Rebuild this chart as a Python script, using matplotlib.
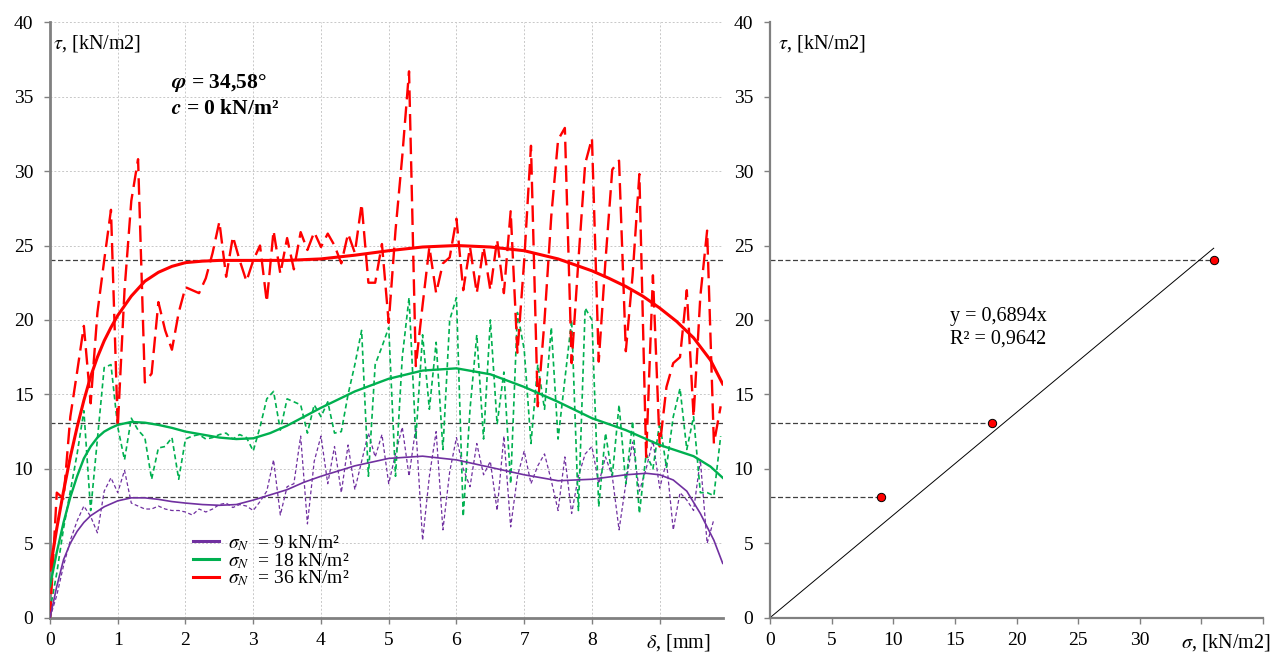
import numpy as np
import matplotlib
matplotlib.use("Agg")
import matplotlib.pyplot as plt

plt.rcParams['font.family'] = ['Liberation Serif', 'DejaVu Serif']
plt.rcParams['mathtext.fontset'] = 'stix'

# ---------------- data ----------------
delta = [round(0.1 * i, 1) for i in range(100)]  # displacement, mm

tau36_raw = [0.0, 8.4, 8.0, 13.5, 16.5, 19.6, 14.4, 20.5, 24.0, 27.4,
             12.8, 22.0, 28.0, 30.8, 15.8, 16.4, 21.2, 19.3, 18.0, 20.5,
             22.2, 22.0, 21.8, 22.8, 24.5, 26.6, 22.9, 25.6, 24.0, 22.6,
             24.0, 25.0, 21.2, 26.0, 23.1, 25.5, 23.4, 25.9, 24.7, 25.9,
             24.9, 25.8, 25.0, 23.8, 25.8, 24.5, 27.8, 22.5, 22.5, 25.1,
             19.8, 26.0, 31.0, 36.7, 16.9, 21.0, 24.9, 21.8, 23.8, 24.2,
             26.8, 22.0, 24.9, 21.8, 24.9, 22.0, 25.4, 21.8, 27.3, 17.8,
             24.0, 31.7, 14.2, 20.0, 27.0, 32.1, 32.9, 17.1, 24.0, 30.5,
             32.2, 17.2, 24.0, 30.1, 30.7, 17.9, 23.0, 29.8, 10.8, 23.0,
             11.5, 15.5, 17.1, 17.5, 22.0, 13.5, 21.6, 26.0, 11.7, 14.2]

tau18_raw = [0.5, 3.0, 6.0, 8.5, 11.0, 13.9, 7.2, 12.0, 16.8, 17.0,
             12.8, 10.6, 13.4, 12.6, 12.1, 9.3, 11.4, 11.5, 12.1, 9.3,
             12.0, 12.2, 12.3, 12.0, 12.1, 12.3, 12.4, 12.0, 12.3, 12.1,
             11.2, 12.8, 14.7, 15.2, 12.6, 14.7, 14.5, 14.3, 12.4, 14.3,
             13.5, 14.5, 12.4, 12.5, 15.0, 17.0, 19.3, 9.5, 17.0, 18.2,
             19.5, 9.5, 17.5, 21.5, 12.0, 19.0, 14.0, 18.5, 11.3, 20.0,
             21.5, 6.8, 14.0, 19.0, 12.0, 20.0, 13.0, 16.5, 9.0, 20.5,
             18.0, 11.7, 17.0, 14.0, 19.5, 12.0, 16.0, 20.0, 7.2, 20.8,
             20.0, 7.45, 12.4, 9.5, 14.3, 9.0, 13.2, 7.0, 11.0, 10.0,
             13.1, 10.1, 13.5, 15.4, 11.3, 13.5, 8.4, 8.4, 8.2, 12.2]

tau9_raw = [0.0, 1.5, 3.5, 5.2, 6.5, 7.5, 6.8, 5.7, 8.5, 9.4,
            8.4, 9.9, 7.7, 7.5, 7.3, 7.3, 7.5, 7.3, 7.2, 7.2,
            7.1, 6.9, 7.3, 7.1, 7.3, 7.6, 7.7, 7.4, 7.6, 7.5,
            7.2, 7.8, 8.5, 10.6, 6.9, 8.8, 9.0, 12.2, 6.3, 10.5,
            12.2, 9.0, 11.5, 8.4, 11.6, 8.6, 10.5, 12.4, 10.8, 12.3,
            9.0, 11.0, 12.8, 9.5, 12.8, 5.2, 9.5, 12.5, 5.9, 9.8,
            12.1, 10.0, 8.8, 11.7, 9.6, 10.5, 7.2, 12.2, 6.1, 9.5,
            11.2, 9.0, 10.2, 11.0, 9.2, 7.2, 10.8, 7.0, 9.5, 11.0,
            11.5, 9.0, 10.8, 9.5, 5.9, 9.0, 11.8, 8.5, 10.0, 11.9,
            8.7, 10.5, 5.9, 8.4, 7.9, 7.2, 10.6, 5.0, 6.6]

# trend curves
trend36_x = [0, 0.1, 0.2, 0.3, 0.4, 0.5, 0.6, 0.7, 0.8, 0.9, 1.0, 1.2, 1.4, 1.6,
             1.8, 2.0, 2.25, 2.5, 3.0, 3.5, 4.0, 4.5, 5.0, 5.5, 6.0, 6.5, 7.0,
             7.5, 8.0, 8.25, 8.5, 8.75, 9.0, 9.25, 9.5, 9.75, 9.93]
trend36_y = [3.2, 6.0, 8.5, 10.8, 12.8, 14.6, 16.2, 17.5, 18.6, 19.5, 20.3, 21.6,
             22.6, 23.2, 23.6, 23.85, 23.95, 24.0, 24.0, 24.0, 24.1, 24.35, 24.65,
             24.9, 25.0, 24.9, 24.65, 24.1, 23.3, 22.8, 22.25, 21.6, 20.8, 19.9,
             18.8, 17.3, 15.7]

trend18_x = [0, 0.1, 0.2, 0.3, 0.4, 0.5, 0.6, 0.7, 0.8, 0.9, 1.0, 1.2, 1.4, 1.6,
             1.8, 2.0, 2.25, 2.5, 2.75, 3.0, 3.25, 3.5, 3.75, 4.0, 4.5, 5.0, 5.5,
             6.0, 6.5, 7.0, 7.5, 8.0, 8.5, 9.0, 9.5, 9.75, 9.93]
trend18_y = [2.1, 4.4, 6.4, 8.1, 9.5, 10.7, 11.5, 12.1, 12.5, 12.75, 12.95, 13.15,
             13.1, 12.95, 12.75, 12.5, 12.3, 12.1, 12.0, 12.05, 12.4, 12.9, 13.5,
             14.1, 15.2, 16.05, 16.6, 16.75, 16.35, 15.5, 14.5, 13.4, 12.6, 11.6,
             10.85, 10.15, 9.4]

trend9_x = [0, 0.1, 0.2, 0.3, 0.4, 0.5, 0.6, 0.8, 1.0, 1.2, 1.4, 1.6, 1.8, 2.0,
            2.25, 2.5, 2.75, 3.0, 3.25, 3.5, 3.75, 4.0, 4.5, 5.0, 5.5, 6.0, 6.5,
            7.0, 7.5, 8.0, 8.5, 8.8, 9.0, 9.2, 9.4, 9.6, 9.8, 9.93]
trend9_y = [0.0, 2.1, 3.9, 5.0, 5.8, 6.4, 6.85, 7.45, 7.85, 8.05, 8.05, 7.95, 7.8,
            7.7, 7.6, 7.55, 7.6, 7.9, 8.25, 8.6, 9.1, 9.5, 10.2, 10.7, 10.85, 10.6,
            10.1, 9.6, 9.2, 9.3, 9.6, 9.7, 9.6, 9.25, 8.5, 7.0, 5.2, 3.65]

sigma_n = [9, 18, 36]
tau_peak = [8.1, 13.1, 24.0]
slope = 0.6894
fit_x = [0, 36]

series_labels = [r'$\sigma_N$  = 9 kN/m²', r'$\sigma_N$  = 18 kN/m²', r'$\sigma_N$  = 36 kN/m²']
c_purple, c_green, c_red = '#7030A0', '#00B050', '#FF0000'

# ---------------- figure ----------------
fig = plt.figure(figsize=(12.88, 6.52), dpi=100)
axL = fig.add_axes([50 / 1288, 34.3 / 652, 672.7 / 1288, 595.5 / 652])
axR = fig.add_axes([770 / 1288, 34.3 / 652, 493 / 1288, 595.5 / 652])

spine_col = '#808080'
for ax in (axL, axR):
    for s in ('top', 'right'):
        ax.spines[s].set_visible(False)
    for s in ('left', 'bottom'):
        ax.spines[s].set_color(spine_col)
    ax.tick_params(colors=spine_col, labelcolor='black', labelsize=14,
                   length=4, width=1)
    ax.tick_params(axis='y', pad=8)
    ax.tick_params(axis='x', pad=6)
    ax.set_ylim(0, 40)
    ax.set_yticks(range(0, 41, 5))
axL.spines['left'].set_linewidth(2)
axL.spines['bottom'].set_linewidth(2)
axR.spines['left'].set_linewidth(1.6)
axR.spines['bottom'].set_linewidth(1.6)

# ---- left panel ----
axL.set_xlim(0, 9.93)
axL.set_xticks(range(0, 10))
axL.set_xticklabels([str(i) for i in range(9)] + [''])
axL.grid(True, color='#C8C8C8', linestyle=(0, (2, 2)), linewidth=0.7)
axL.set_axisbelow(True)

for yv in tau_peak:
    axL.axhline(yv, color='#404040', linestyle=(0, (4, 2)), linewidth=0.9, zorder=2)

axL.plot(delta[:len(tau9_raw)], tau9_raw, color=c_purple, lw=0.9,
         linestyle=(0, (3, 2)), zorder=3)
axL.plot(delta[:len(tau18_raw)], tau18_raw, color=c_green, lw=1.2,
         linestyle=(0, (3, 2)), zorder=3)
axL.plot(delta[:len(tau36_raw)], tau36_raw, color=c_red, lw=1.7,
         linestyle=(0, (7, 3)), zorder=4)

l9, = axL.plot(trend9_x, trend9_y, color=c_purple, lw=1.2, zorder=5)
l18, = axL.plot(trend18_x, trend18_y, color=c_green, lw=1.7, zorder=5)
l36, = axL.plot(trend36_x, trend36_y, color=c_red, lw=2.2, zorder=6)

leg = axL.legend([l9, l18, l36], series_labels, loc='upper left',
                 bbox_to_anchor=(0.213, 0.142), frameon=False, fontsize=14,
                 handlelength=1.3, handletextpad=0.5, labelspacing=-0.1,
                 borderaxespad=0, borderpad=0)
for h in leg.legend_handles:
    h.set_linewidth(2.2)

axL.text(0.05, 38.6, r'$\tau$, [kN/m2]', fontsize=14.5, ha='left', va='center')
axL.text(1.78, 35.9, r'$\mathbfit{\varphi}$ = 34,58°', fontsize=15.5,
         fontweight='bold', ha='left', va='center')
axL.text(1.78, 34.2, r'$\mathbfit{c}$ = 0 kN/m²', fontsize=15.5,
         fontweight='bold', ha='left', va='center')
axL.annotate(r'$\delta$, [mm]', xy=(9.27, 0), xycoords=('data', 'axes fraction'),
             xytext=(0, -10), textcoords='offset points', ha='center', va='top',
             fontsize=14.5)

# ---- right panel ----
axR.set_xlim(0, 40)
axR.set_xticks(range(0, 41, 5))
axR.set_xticklabels([str(v) for v in range(0, 31, 5)] + ['', ''])
for xv, yv in zip(sigma_n, tau_peak):
    axR.plot([0, xv], [yv, yv], color='#404040', linestyle=(0, (4, 2)), lw=0.9)
axR.plot(fit_x, [slope * v for v in fit_x], color='black', lw=0.7)
axR.plot(sigma_n, tau_peak, 'o', color=c_red, markeredgecolor='black',
         markersize=6, markeredgewidth=0.7, zorder=5)
axR.text(14.6, 20.2, 'y = 0,6894x', fontsize=14.5, ha='left', va='center')
axR.text(14.6, 18.7, 'R² = 0,9642', fontsize=14.5, ha='left', va='center')
axR.text(0.65, 38.6, r'$\tau$, [kN/m2]', fontsize=14.5, ha='left', va='center')
axR.annotate(r'$\sigma$, [kN/m2]', xy=(37.0, 0), xycoords=('data', 'axes fraction'),
             xytext=(0, -10), textcoords='offset points', ha='center', va='top',
             fontsize=14.5)

fig.savefig('out.png', dpi=100)
